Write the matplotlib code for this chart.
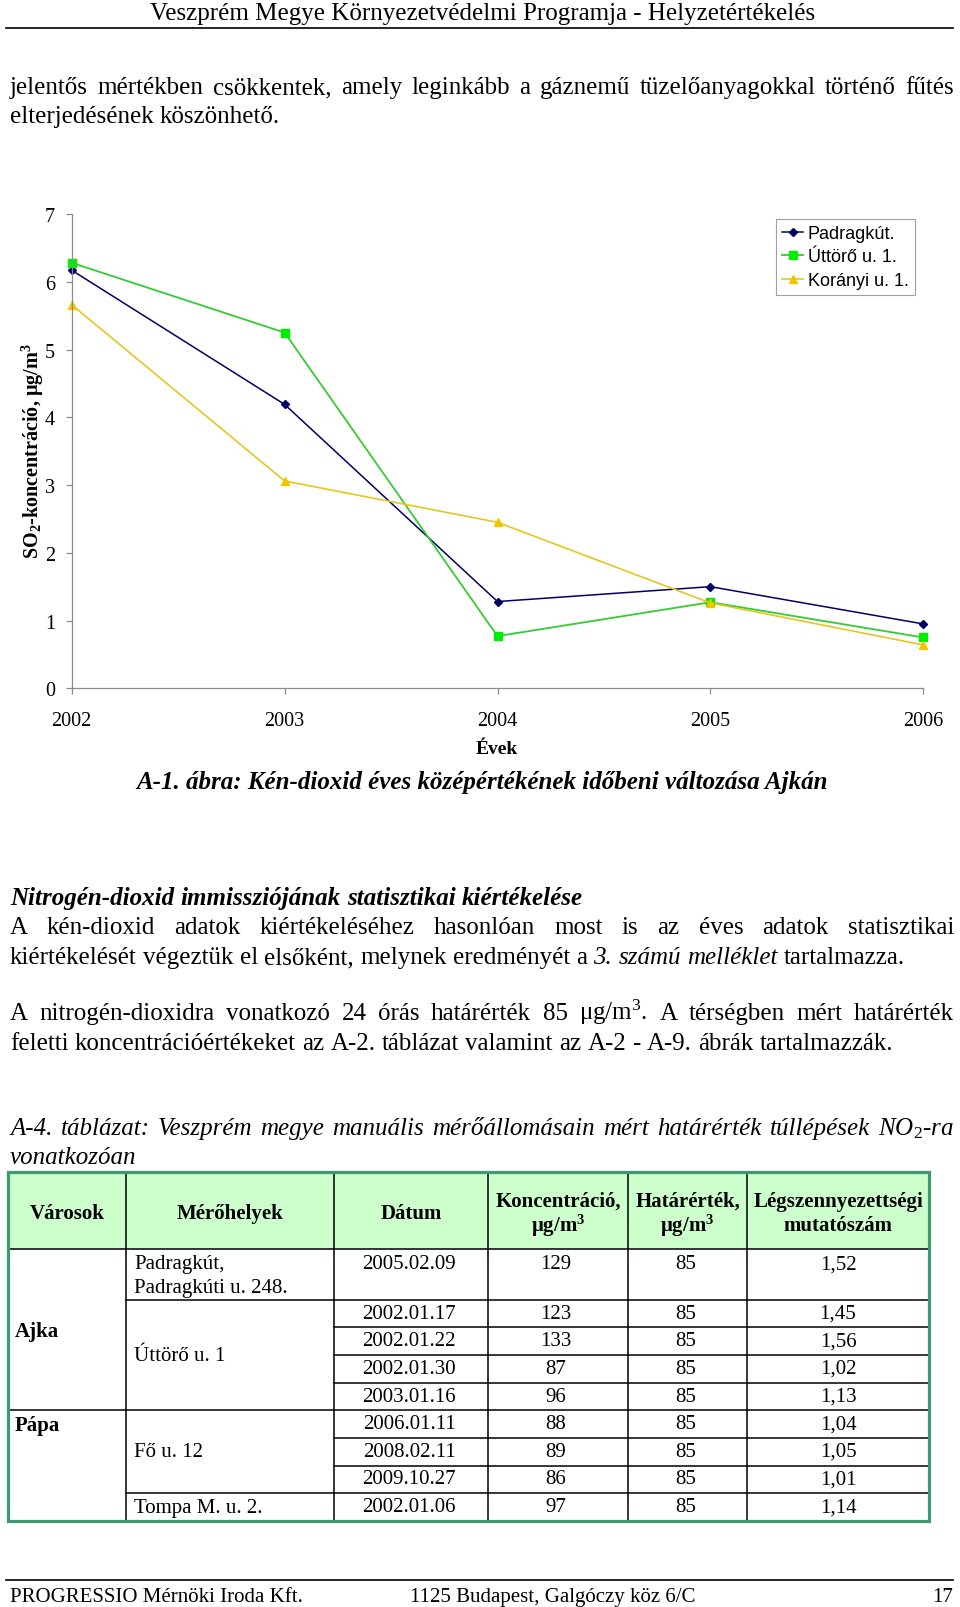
import matplotlib
matplotlib.use('Agg')
import matplotlib.pyplot as plt
from matplotlib.patches import Rectangle

plt.rcParams['font.family'] = ['Liberation Serif', 'DejaVu Serif']
plt.rcParams['mathtext.fontset'] = 'custom'
plt.rcParams['mathtext.rm'] = 'Liberation Serif'
plt.rcParams['mathtext.it'] = 'Liberation Serif:italic'
plt.rcParams['mathtext.bf'] = 'Liberation Serif:bold'

# --- chart data (SO2 annual means, Ajka) ---
years = [2002, 2003, 2004, 2005, 2006]
padragkut = [6.17, 4.19, 1.28, 1.50, 0.95]
uttoro = [6.28, 5.25, 0.77, 1.27, 0.75]
koranyi = [5.66, 3.06, 2.45, 1.26, 0.64]
series_names = ['Padragkút.', 'Úttörő u. 1.', 'Korányi u. 1.']

# --- table data (NO2 exceedances) ---
table_header = ['Városok', 'Mérőhelyek', 'Dátum',
                ['Koncentráció,', r'μg/m$^\mathbf{3}$'],
                ['Határérték,', r'μg/m$^\mathbf{3}$'],
                ['Légszennyezettségi', 'mutatószám']]
cities = ['Ajka', 'Pápa']
city_rows = [5, 4]
sites = [['Padragkút,', 'Padragkúti u. 248.'], ['Úttörő u. 1'], ['Fő u. 12'], ['Tompa M. u. 2.']]
site_rows = [1, 4, 3, 1]
dates = ['2005.02.09', '2002.01.17', '2002.01.22', '2002.01.30', '2003.01.16',
         '2006.01.11', '2008.02.11', '2009.10.27', '2002.01.06']
concentrations = ['129', '123', '133', '87', '96', '88', '89', '86', '97']
limits = ['85', '85', '85', '85', '85', '85', '85', '85', '85']
indices = ['1,52', '1,45', '1,56', '1,02', '1,13', '1,04', '1,05', '1,01', '1,14']

W, H = 960, 1608
fig = plt.figure(figsize=(W / 100, H / 100), dpi=100)
page = fig.add_axes([0, 0, 1, 1])
page.set_xlim(0, W)
page.set_ylim(H, 0)
page.axis('off')
renderer = fig.canvas.get_renderer()

N = {}
I = {'style': 'italic'}
B = {'weight': 'bold'}
BI = {'weight': 'bold', 'style': 'italic'}
BODY = 18


def put_line(segments, y, justify=False, x0=10, x1=954, size=BODY):
    # place words one by one so lines can be justified like the page
    items = []
    for seg, style in segments:
        for word in seg.split(' '):
            items.append(page.text(0, y, word, fontsize=size, va='baseline', **style))
    widths = [t.get_window_extent(renderer).width for t in items]
    if justify:
        gap = (x1 - x0 - sum(widths)) / (len(items) - 1)
    else:
        gap = 0.25 * size * 100 / 72
    x = x0
    for t, w in zip(items, widths):
        t.set_x(x)
        x += w + gap


# page header
page.text(483, 20, 'Veszprém Megye Környezetvédelmi Programja - Helyzetértékelés',
          fontsize=18, ha='center', va='baseline')
page.plot([6, 953], [29, 29], color='black', lw=1.2)

put_line([('jelentős mértékben csökkentek, amely leginkább a gáznemű tüzelőanyagokkal történő fűtés', N)], 94, justify=True)
put_line([('elterjedésének köszönhető.', N)], 123)

# chart
ax = fig.add_axes([71.7 / W, 1 - 689.3 / H, (923.3 - 71.7) / W, (689.3 - 215) / H])
ax.set_facecolor('none')
ax.plot(years, padragkut, color='#000066', marker='D', markersize=4, lw=1.1,
        label=series_names[0], clip_on=False)
ax.plot(years, uttoro, color='#33cc33', marker='s', markersize=5.5, mfc='#00ee00',
        mec='#00ee00', lw=1.3, label=series_names[1], clip_on=False)
ax.plot(years, koranyi, color='#e6c620', marker='^', markersize=5.5, mfc='#f2c500',
        mec='#f2c500', lw=1.2, label=series_names[2], clip_on=False)
ax.set_xlim(2002, 2006)
ax.set_ylim(0, 7)
ax.set_xticks(years)
ax.set_yticks(range(8))
for s in ['top', 'right']:
    ax.spines[s].set_visible(False)
for s in ['left', 'bottom']:
    ax.spines[s].set_color('#8c8c8c')
    ax.spines[s].set_linewidth(0.9)
ax.tick_params(colors='#8c8c8c', labelcolor='black', length=4, width=0.9, labelsize=14.5)
ax.tick_params(axis='x', pad=12)
ax.tick_params(axis='y', pad=8)

leg = ax.legend(loc='upper left', bbox_to_anchor=(776 / W, 1 - 219.5 / H),
                bbox_transform=fig.transFigure, prop={'family': 'Liberation Sans', 'size': 13},
                frameon=True, fancybox=False, edgecolor='#a0a0a0', framealpha=1,
                borderpad=0.35, labelspacing=0.36, handlelength=1.15, handletextpad=0.25,
                borderaxespad=0)
leg.get_frame().set_linewidth(0.8)

page.text(33, 451, r'SO$_\mathbf{2}$-koncentráció, μg/m$^\mathbf{3}$', rotation=90,
          fontsize=14.5, weight='bold', ha='center', va='center')
page.text(497, 754, 'Évek', fontsize=14, weight='bold', ha='center', va='baseline')
page.text(482, 789, 'A-1. ábra: Kén-dioxid éves középértékének időbeni változása Ajkán',
          fontsize=18, weight='bold', style='italic', ha='center', va='baseline')

# text between chart and table
put_line([('Nitrogén-dioxid immissziójának statisztikai kiértékelése', BI)], 905)
put_line([('A kén-dioxid adatok kiértékeléséhez hasonlóan most is az éves adatok statisztikai', N)], 934, justify=True)
put_line([('kiértékelését végeztük el elsőként, melynek eredményét a', N),
          ('3. számú melléklet', I), ('tartalmazza.', N)], 964)
put_line([('A nitrogén-dioxidra vonatkozó 24 órás határérték 85 μg/m$^3$. A térségben mért határérték', N)], 1020, justify=True)
put_line([('feletti koncentrációértékeket az A-2. táblázat valamint az A-2 - A-9. ábrák tartalmazzák.', N)], 1050)
put_line([(r'A-4. táblázat: Veszprém megye manuális mérőállomásain mért határérték túllépések NO$_\mathit{2}$-ra', I)], 1135, justify=True)
put_line([('vonatkozóan', I)], 1164)

# table layout (pixels)
tx = [8, 126, 334, 488, 628, 747, 929]
top, head_bot = 1173, 1250
row_edges = [1250, 1301, 1328.3, 1356, 1384, 1411.3, 1439.3, 1466.7, 1494.3, 1522]
border = '#3d9970'
page.add_patch(Rectangle((tx[0], top), tx[-1] - tx[0], head_bot - top,
                         facecolor='#ccffcc', edgecolor='none'))
for x in tx[1:-1]:
    page.plot([x, x], [top, row_edges[-1]], color='black', lw=1.1)
page.plot([tx[0], tx[-1]], [head_bot, head_bot], color='black', lw=1.1)

city_starts = [sum(city_rows[:i]) for i in range(len(city_rows))]
site_starts = [sum(site_rows[:i]) for i in range(len(site_rows))]
for r in range(1, len(dates)):
    if r in city_starts:
        x0 = tx[0]
    elif r in site_starts:
        x0 = tx[1]
    else:
        x0 = tx[2]
    page.plot([x0, tx[-1]], [row_edges[r], row_edges[r]], color='black', lw=1.1)

page.add_patch(Rectangle((tx[0], top), tx[-1] - tx[0], row_edges[-1] - top,
                         facecolor='none', edgecolor=border, lw=2.3, zorder=5))

# header text
centers = [(tx[i] + tx[i + 1]) / 2 for i in range(6)]
for i, h in enumerate(table_header):
    if isinstance(h, list):
        page.text(centers[i], 1202, h[0], fontsize=15, weight='bold', ha='center', va='center')
        page.text(centers[i], 1226, h[1], fontsize=15, weight='bold', ha='center', va='center')
    else:
        page.text(centers[i], 1214, h, fontsize=15, weight='bold', ha='center', va='center')

# body text
for r in range(len(dates)):
    if r == 0:
        yc = 1265
    else:
        yc = (row_edges[r] + row_edges[r + 1]) / 2 - 0.5
    page.text(centers[2] - 2, yc, dates[r], fontsize=15, ha='center', va='center')
    page.text(centers[3] - 2, yc, concentrations[r], fontsize=15, ha='center', va='center')
    page.text(centers[4] - 2, yc, limits[r], fontsize=15, ha='center', va='center')
    page.text(centers[5], yc, indices[r], fontsize=15, ha='center', va='center')

city_y = [1332, 1426]
for c, y in zip(cities, city_y):
    page.text(15, y, c, fontsize=15, weight='bold', ha='left', va='center')

for s, start, n in zip(sites, site_starts, site_rows):
    if len(s) == 2:
        page.text(134, 1265, s[0], fontsize=15, ha='left', va='center')
        page.text(134, 1289, s[1], fontsize=15, ha='left', va='center')
    else:
        yc = (row_edges[start] + row_edges[start + n]) / 2
        page.text(134, yc, s[0], fontsize=15, ha='left', va='center')

# footer
page.plot([6, 953], [1581, 1581], color='black', lw=1.2)
page.text(10, 1602, 'PROGRESSIO Mérnöki Iroda Kft.', fontsize=15, va='baseline')
page.text(410, 1602, '1125 Budapest, Galgóczy köz 6/C', fontsize=15, va='baseline')
page.text(953, 1602, '17', fontsize=15, ha='right', va='baseline')

fig.savefig('out.png', dpi=100)
